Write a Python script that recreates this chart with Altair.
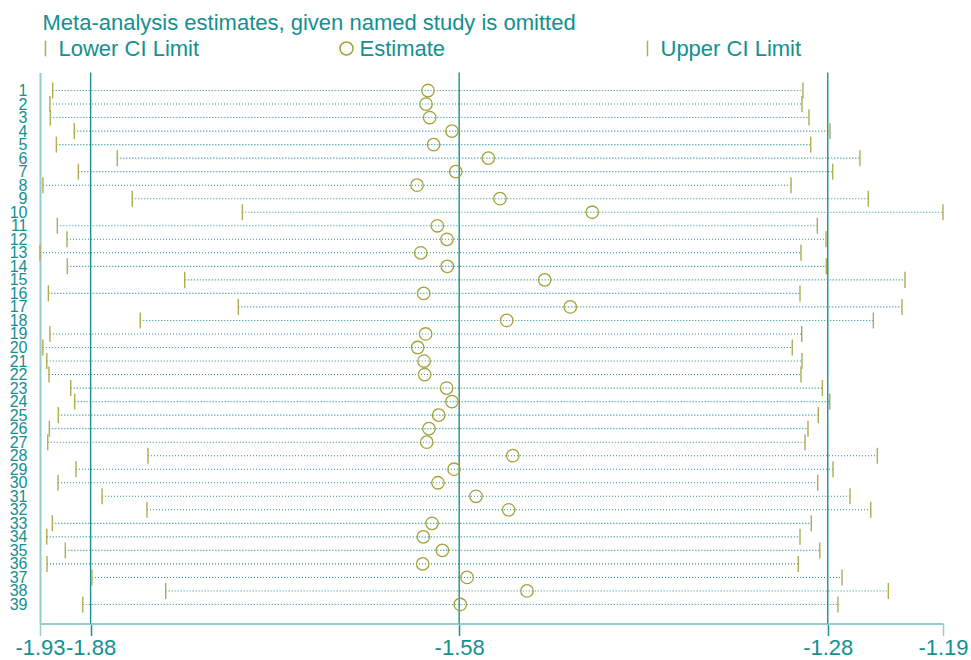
import altair as alt
import pandas as pd

# Influence analysis: pooled estimate recomputed with each study left out
study = list(range(1, 40))

lower = [
    -1.9157, -1.9179, -1.9176, -1.8981, -1.9127, -1.8631, -1.8948, -1.9236, -1.8509, -1.7613,
    -1.9119, -1.9040, -1.9260, -1.9038, -1.8082, -1.9192, -1.7646, -1.8444, -1.9179, -1.9237,
    -1.9205, -1.9187, -1.9010, -1.8978, -1.9111, -1.9184, -1.9197, -1.8381, -1.8967, -1.9113,
    -1.8755, -1.8389, -1.9160, -1.9205, -1.9054, -1.9203, -1.8837, -1.8237, -1.8912,
]
estimate = [
    -1.6102, -1.6118, -1.6088, -1.5907, -1.6056, -1.5611, -1.5876, -1.6191, -1.5516, -1.4765,
    -1.6026, -1.5947, -1.6161, -1.5945, -1.5152, -1.6137, -1.4944, -1.5461, -1.6121, -1.6186,
    -1.6134, -1.6129, -1.5950, -1.5907, -1.6015, -1.6094, -1.6112, -1.5412, -1.5890, -1.6021,
    -1.5711, -1.5445, -1.6069, -1.6140, -1.5985, -1.6145, -1.5784, -1.5296, -1.5839,
]
upper = [
    -1.3050, -1.3058, -1.3001, -1.2830, -1.2987, -1.2586, -1.2808, -1.3147, -1.2518, -1.1910,
    -1.2933, -1.2862, -1.3066, -1.2860, -1.2219, -1.3074, -1.2244, -1.2477, -1.3060, -1.3137,
    -1.3058, -1.3066, -1.2892, -1.2832, -1.2925, -1.3009, -1.3033, -1.2445, -1.2805, -1.2930,
    -1.2667, -1.2498, -1.2982, -1.3074, -1.2913, -1.3088, -1.2732, -1.2355, -1.2765,
]

# Pooled estimate with all studies and its confidence limits
overall = -1.5848
overall_lo = -1.8848
overall_hi = -1.2848

series = ["Lower CI Limit", "Estimate", "Upper CI Limit"]

x_min = min(lower)
x_max = max(upper)

FONT = "Liberation Sans"
TEAL = "#13908f"
TEAL_LINE = "#1c8f8f"
TEAL_LIGHT = "#96cccc"
DOTS = "#238f8f"
OLIVE_TICK = "#adad52"
OLIVE_RING = "#a2a23a"
TICK_PATH = "M0,-1.2L0,1.2"

wide = pd.DataFrame({"study": study, "lower": lower, "estimate": estimate, "upper": upper})
long = pd.concat(
    [
        pd.DataFrame({"study": study, "value": lower, "series": series[0]}),
        pd.DataFrame({"study": study, "value": estimate, "series": series[1]}),
        pd.DataFrame({"study": study, "value": upper, "series": series[2]}),
    ],
    ignore_index=True,
)
refs = pd.DataFrame({"value": [overall_lo, overall, overall_hi]})

x_scale = alt.Scale(domain=[x_min, x_max], nice=False, zero=False)
x_axis = alt.Axis(
    values=[x_min, overall_lo, overall, overall_hi, x_max],
    labelExpr="replace(format(datum.value, '.2f'), '\u2212', '-')",
    title=None,
    grid=False,
    domainColor=TEAL_LIGHT,
    domainWidth=2,
    tickSize=12,
    tickWidth=1.5,
    tickColor={
        "condition": {"test": "datum.value > -1.92 && datum.value < -1.2", "value": TEAL_LINE},
        "value": TEAL_LIGHT,
    },
    labelFont=FONT,
    labelFontSize=22,
    labelColor=TEAL,
    labelPadding=2,
    labelOverlap=False,
    labelFlush=False,
)
y_scale = alt.Scale(domain=[-0.332, 40.406], reverse=True, nice=False, zero=False)
y_axis = alt.Axis(
    values=study,
    format="d",
    title=None,
    grid=False,
    ticks=False,
    domainColor=TEAL_LIGHT,
    domainWidth=2,
    labelFont=FONT,
    labelFontSize=16,
    labelColor=TEAL,
    labelPadding=13,
    labelBaseline="middle",
    labelOverlap=False,
    labelFlush=False,
)

legend = alt.Legend(
    title=None,
    orient="none",
    legendX=-5.5,
    legendY=-35,
    direction="horizontal",
    columns=3,
    gridAlign="all",
    columnPadding=136,
    padding=0,
    labelFont=FONT,
    labelFontSize=22,
    labelColor=TEAL,
    labelOffset=2,
    symbolSize=169,
    symbolStrokeWidth=1.5,
    labelLimit=300,
)
color_enc = alt.Color(
    "series:N",
    scale=alt.Scale(domain=series, range=[OLIVE_TICK, OLIVE_RING, OLIVE_TICK]),
    legend=legend,
)
shape_enc = alt.Shape(
    "series:N",
    scale=alt.Scale(domain=series, range=[TICK_PATH, "circle", TICK_PATH]),
    legend=legend,
)


def xq(field):
    return alt.X(f"{field}:Q", scale=x_scale, axis=x_axis)


def yq():
    return alt.Y("study:Q", scale=y_scale, axis=y_axis)


ref_lines = alt.Chart(refs).mark_rule(color=TEAL_LINE, strokeWidth=1.4).encode(x=xq("value"))

ci_lines = alt.Chart(wide).mark_rule(
    color=DOTS, strokeWidth=1.1, strokeDash=[1, 2]
).encode(x=xq("lower"), x2="upper:Q", y=yq())

limits = alt.Chart(long).transform_filter(
    alt.datum.series != "Estimate"
).mark_point(filled=False, size=178, strokeWidth=1.4, opacity=1).encode(
    x=xq("value"), y=yq(), color=color_enc, shape=shape_enc
)

points = alt.Chart(long).transform_filter(
    alt.datum.series == "Estimate"
).mark_point(filled=False, size=156, strokeWidth=1.3, opacity=1).encode(
    x=xq("value"), y=yq(), color=color_enc, shape=shape_enc
)

chart = alt.layer(ref_lines, ci_lines, limits, points).properties(
    width=903,
    height=551,
    background="white",
    autosize=alt.AutoSizeParams(type="none"),
    padding={"left": 40, "top": 72.5, "right": 28, "bottom": 36.5},
    title=alt.TitleParams(
        "Meta-analysis estimates, given named study is omitted",
        anchor="start",
        frame="group",
        font=FONT,
        fontSize=22,
        fontWeight="normal",
        color=TEAL,
        dx=2.5,
        offset=3,
    ),
).configure_view(stroke=None)

chart.save("out.html", embed_options={"renderer": "svg", "actions": False})
